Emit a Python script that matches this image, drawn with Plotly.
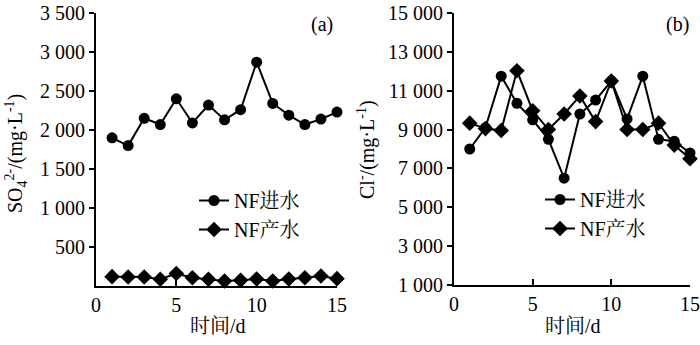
import plotly.graph_objects as go

days = list(range(1, 16))
so4_in = [1900, 1800, 2150, 2070, 2400, 2090, 2320, 2130, 2260, 2870, 2340, 2190, 2070, 2140, 2230]
so4_out = [120, 115, 115, 86, 160, 106, 86, 64, 73, 90, 64, 90, 106, 128, 94]
cl_in = [8000, 9100, 11750, 10350, 9500, 8500, 6500, 9800, 10520, 11500, 9550, 11750, 8500, 8400, 7800]
cl_out = [9330, 9050, 8950, 12030, 9970, 9000, 9800, 10730, 9410, 11500, 9000, 9000, 9330, 8200, 7500]

xticks = [0, 5, 10, 15]
so4_ticks = [500, 1000, 1500, 2000, 2500, 3000, 3500]
so4_ticktext = ["500", "1 000", "1 500", "2 000", "2 500", "3 000", "3 500"]
cl_ticks = [1000, 3000, 5000, 7000, 9000, 11000, 13000, 15000]
cl_ticktext = ["1 000", "3 000", "5 000", "7 000", "9 000", "11 000", "13 000", "15 000"]

name_in = "NF进水"
name_out = "NF产水"

FONT = "Liberation Serif, 'Noto Serif CJK SC', 'Noto Sans CJK SC', serif"
black = "black"

fig = go.Figure()

def add(x, y, name, sym, size, xa, ya, legend):
    fig.add_trace(go.Scatter(
        x=x, y=y, name=name, mode="lines+markers",
        line=dict(color=black, width=2),
        marker=dict(symbol=sym, size=size, color=black),
        xaxis=xa, yaxis=ya, legend=legend, cliponaxis=False))

add(days, so4_in, name_in, "circle", 11, "x", "y", "legend")
add(days, so4_out, name_out, "diamond", 12, "x", "y", "legend")
add(days, cl_in, name_in, "circle", 11, "x2", "y2", "legend2")
add(days, cl_out, name_out, "diamond", 12, "x2", "y2", "legend2")

W, H = 700, 345
def px(v): return v / W
def py(v): return (H - v) / H

axis_common = dict(showgrid=False, zeroline=False, showline=True, linecolor=black,
                   linewidth=2, tickcolor=black, tickwidth=1.5, automargin=False,
                   ticklabeloverflow="allow",
                   tickfont=dict(family=FONT, size=20, color=black))

fig.update_layout(
    template="none",
    width=W, height=H, margin=dict(l=0, r=0, t=0, b=0, pad=0, autoexpand=False),
    paper_bgcolor="white", plot_bgcolor="white",
    font=dict(family=FONT, size=20, color=black),
    xaxis=dict(domain=[px(96), px(337)], range=[0, 15], tickvals=xticks,
               ticks="inside", ticklen=6, anchor="y", **axis_common),
    yaxis=dict(domain=[py(286), py(13)], range=[0, 3500], tickvals=so4_ticks,
               ticktext=so4_ticktext, ticks="outside", ticklen=5, anchor="x", **axis_common),
    xaxis2=dict(domain=[px(454), px(690)], range=[0, 15], tickvals=xticks,
                ticks="inside", ticklen=6, anchor="y2", **axis_common),
    yaxis2=dict(domain=[py(285), py(13)], range=[1000, 15000], tickvals=cl_ticks,
                ticktext=cl_ticktext, ticks="outside", ticklen=5, anchor="x2", **axis_common),
    legend=dict(x=px(194), y=py(181), xanchor="left", yanchor="top",
                bgcolor="rgba(0,0,0,0)", font=dict(family=FONT, size=20),
                itemwidth=30, tracegroupgap=0),
    legend2=dict(x=px(540), y=py(180), xanchor="left", yanchor="top",
                 bgcolor="rgba(0,0,0,0)", font=dict(family=FONT, size=20),
                 itemwidth=30, tracegroupgap=0),
    showlegend=True,
)

def note(text, x, y, angle=0):
    return dict(text=text, x=px(x), y=py(y), xref="paper", yref="paper", showarrow=False,
                xanchor="center", yanchor="middle", textangle=angle,
                font=dict(family=FONT, size=20, color=black))

ann = [
    note("(a)", 322, 25),
    note("(b)", 677, 25),
    note("时间/d", 218, 326),
    note("时间/d", 573, 326),
    note("SO<sub>4</sub><sup>2-</sup>/(mg·L<sup>-1</sup>)", 16, 154, -90),
    note("Cl<sup>-</sup>/(mg·L<sup>-1</sup>)", 366, 150, -90),
]
fig.update_layout(annotations=ann)

fig.write_html("out.html")
